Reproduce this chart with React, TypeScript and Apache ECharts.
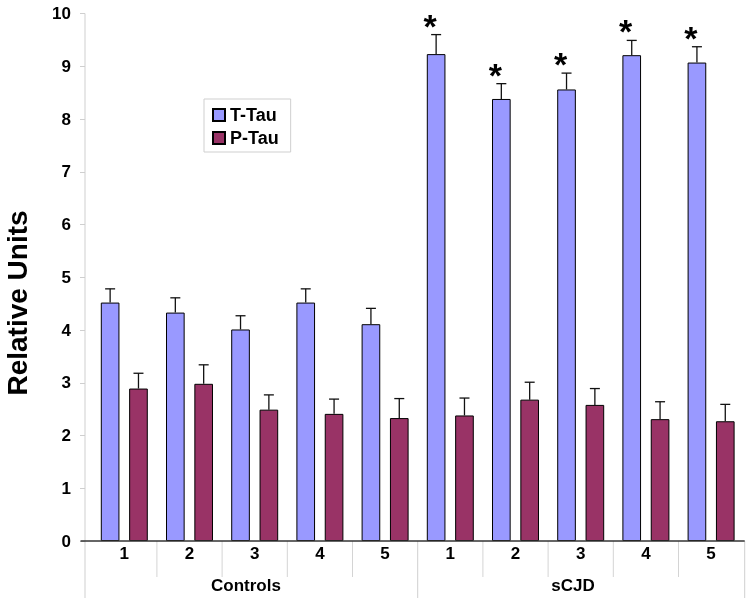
import React, { useEffect, useRef } from "react";
import * as echarts from "echarts";

const categories = ["1", "2", "3", "4", "5", "1", "2", "3", "4", "5"];
const groups = ["Controls", "sCJD"];
const tTau = [4.52, 4.33, 4.01, 4.52, 4.11, 9.23, 8.38, 8.56, 9.21, 9.07];
const tTauErr = [0.26, 0.28, 0.26, 0.26, 0.30, 0.37, 0.29, 0.31, 0.28, 0.30];
const pTau = [2.89, 2.98, 2.49, 2.41, 2.33, 2.38, 2.68, 2.58, 2.31, 2.27];
const pTauErr = [0.29, 0.36, 0.28, 0.28, 0.37, 0.33, 0.33, 0.31, 0.33, 0.32];
const tTauSignificant = [0, 0, 0, 0, 0, 1, 1, 1, 1, 1];
const pTauSignificant = [0, 0, 0, 0, 0, 0, 0, 0, 0, 0];
const yTicks = { min: 0, max: 10, interval: 1 };
const yTitle = "Relative Units";

const FONT = "'Liberation Sans', Arial, sans-serif";
const GRID_LEFT = 91.7;
const GRID_RIGHT_X = 743.7;
const GRID_TOP = 13.5;
const AXIS_Y = 541;
const BAR_FRAC = 0.286;
const GAP_FRAC = 0.52;

function errSeries(name: string, vals: number[], errs: number[], sig: number[], sign: number) {
  return {
    type: "custom",
    name: name + "-err",
    z: 5,
    silent: true,
    clip: false,
    encode: { x: 0, y: 1 },
    data: vals.map((v, i) => [i, v, errs[i], sig[i]]),
    renderItem: (params: any, api: any) => {
      const x = api.value(0);
      const v = api.value(1);
      const e = api.value(2);
      const s = api.value(3);
      const base = api.coord([x, v]);
      const top = api.coord([x, v + e]);
      const band = api.size([1, 0])[0];
      const bw = band * BAR_FRAC;
      const gap = bw * GAP_FRAC;
      const cx = base[0] + sign * (gap / 2 + bw / 2);
      const children: any[] = [
        {
          type: "line",
          shape: { x1: cx, y1: base[1], x2: cx, y2: top[1] },
          style: { stroke: "#111", lineWidth: 1.3 },
        },
        {
          type: "line",
          shape: { x1: cx - 5, y1: top[1], x2: cx + 5, y2: top[1] },
          style: { stroke: "#111", lineWidth: 1.3 },
        },
      ];
      if (s) {
        children.push({
          type: "text",
          style: {
            text: "*",
            x: cx - 6,
            y: top[1] - 9,
            align: "center",
            verticalAlign: "middle",
            font: `bold 34px ${FONT}`,
            fill: "#000",
          },
        });
      }
      return { type: "group", children };
    },
  };
}

export default function App() {
  const ref = useRef<HTMLDivElement>(null);
  useEffect(() => {
    document.body.style.margin = "0";
    const chart = echarts.init(ref.current!, null, { renderer: "svg" });
    const catW = (GRID_RIGHT_X - GRID_LEFT) / categories.length;
    const sepLines: any[] = [];
    for (let k = 1; k < categories.length; k++) {
      if (k === categories.length / 2) continue;
      const x = GRID_LEFT + k * catW;
      sepLines.push({
        type: "line",
        shape: { x1: x, y1: AXIS_Y, x2: x, y2: 577 },
        style: { stroke: "#d4d4d4", lineWidth: 1 },
      });
    }
    const midX = GRID_LEFT + (categories.length / 2) * catW;
    const longXs = [85, midX, GRID_RIGHT_X + 1];
    longXs.forEach((x, i) =>
      sepLines.push({
        type: "line",
        shape: { x1: x, y1: i === 0 ? GRID_TOP : AXIS_Y, x2: x, y2: 598 },
        style: { stroke: "#cfcfcf", lineWidth: 1 },
      })
    );
    chart.setOption({
      animation: false,
      textStyle: { fontFamily: FONT },
      grid: {
        left: GRID_LEFT,
        top: GRID_TOP,
        width: GRID_RIGHT_X - GRID_LEFT,
        height: AXIS_Y - GRID_TOP,
        containLabel: false,
        outerBoundsMode: "none",
      },
      legend: {
        orient: "vertical",
        left: 204,
        top: 99,
        padding: [7, 12, 5, 8],
        itemWidth: 12,
        itemHeight: 12,
        itemGap: 5,
        itemTextGap: 9,
        icon: "rect",
        borderColor: "#cfcfcf",
        borderWidth: 1,
        data: ["T-Tau", "P-Tau"],
        textStyle: { fontFamily: FONT, fontSize: 18, fontWeight: "bold", color: "#000" },
      },
      xAxis: {
        type: "category",
        data: categories,
        axisLine: { show: false },
        axisTick: { show: false },
        axisLabel: { fontSize: 17, fontWeight: "bold", color: "#000", margin: 4, fontFamily: FONT },
      },
      yAxis: {
        type: "value",
        min: yTicks.min,
        max: yTicks.max,
        interval: yTicks.interval,
        offset: GRID_LEFT - 85,
        splitLine: { show: false },
        axisLine: { show: false },
        axisTick: { show: true, length: 5, lineStyle: { color: "#cfcfcf" } },
        axisLabel: { fontSize: 17, fontWeight: "bold", color: "#000", margin: 14, fontFamily: FONT },
      },
      series: [
        {
          type: "bar",
          name: "T-Tau",
          data: tTau,
          barWidth: (BAR_FRAC * 100).toFixed(1) + "%",
          barGap: GAP_FRAC * 100 + "%",
          itemStyle: { color: "#9999FF", borderColor: "#000", borderWidth: 1 },
        },
        {
          type: "bar",
          name: "P-Tau",
          data: pTau,
          barWidth: (BAR_FRAC * 100).toFixed(1) + "%",
          barGap: GAP_FRAC * 100 + "%",
          itemStyle: { color: "#993366", borderColor: "#000", borderWidth: 1 },
        },
        errSeries("T-Tau", tTau, tTauErr, tTauSignificant, -1),
        errSeries("P-Tau", pTau, pTauErr, pTauSignificant, 1),
      ],
      graphic: [
        ...sepLines,
        {
          type: "line",
          z: 10,
          shape: { x1: 80.5, y1: AXIS_Y, x2: GRID_RIGHT_X + 1, y2: AXIS_Y },
          style: { stroke: "#333", lineWidth: 1.5 },
        },
        {
          type: "text",
          x: 17,
          y: 303,
          rotation: Math.PI / 2,
          style: {
            text: yTitle,
            x: 0,
            y: 0,
            align: "center",
            verticalAlign: "middle",
            font: `bold 28px ${FONT}`,
            fill: "#000",
          },
        },
        {
          type: "text",
          style: {
            text: groups[0],
            x: 246,
            y: 585,
            align: "center",
            verticalAlign: "middle",
            font: `bold 17px ${FONT}`,
            fill: "#000",
          },
        },
        {
          type: "text",
          style: {
            text: groups[1],
            x: 573,
            y: 585,
            align: "center",
            verticalAlign: "middle",
            font: `bold 17px ${FONT}`,
            fill: "#000",
          },
        },
      ],
    });
    return () => chart.dispose();
  }, []);
  return <div ref={ref} style={{ width: 750, height: 603, position: "fixed", left: 0, top: 0 }} />;
}
